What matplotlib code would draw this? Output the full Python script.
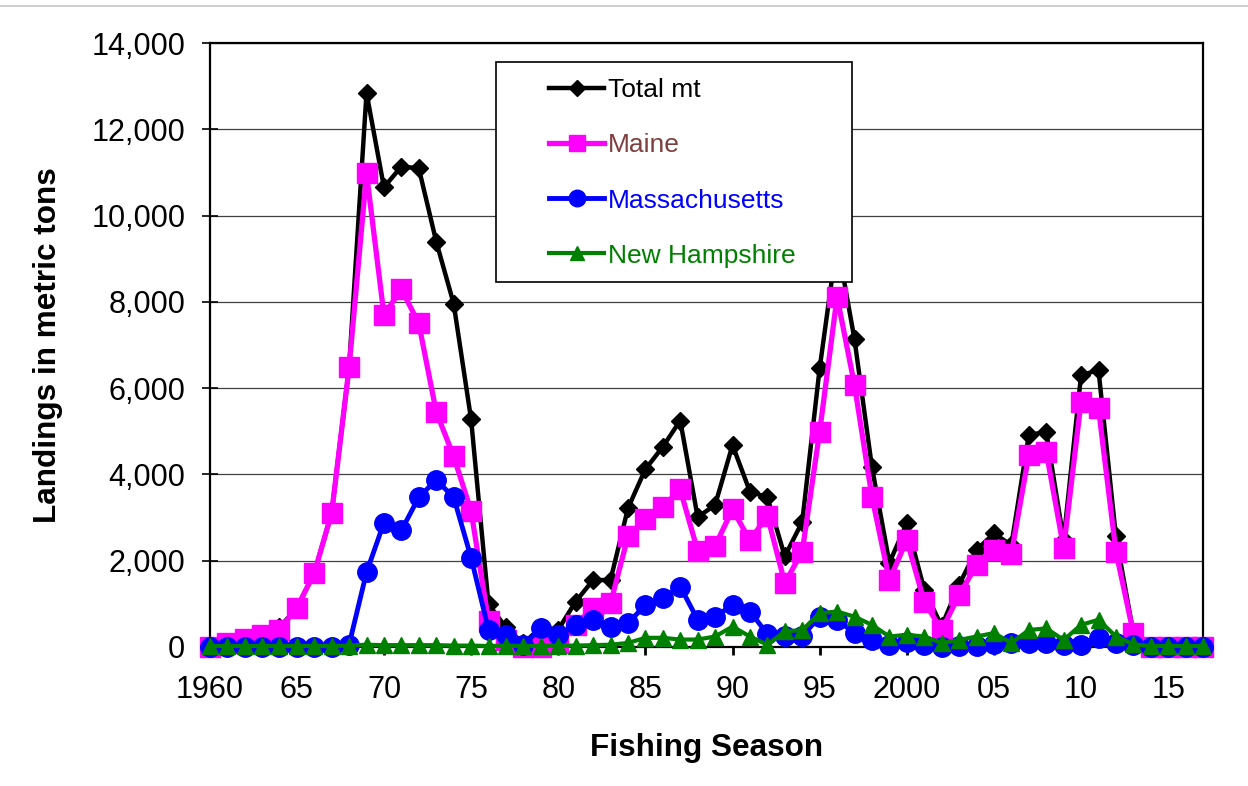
import matplotlib.pyplot as plt
from matplotlib.patches import Rectangle
from matplotlib.lines import Line2D
from matplotlib.ticker import FuncFormatter

plt.rcParams['font.family'] = ['Liberation Sans', 'DejaVu Sans']

years = list(range(1960, 2018))

total = [0, 100, 180, 270, 450, 900, 1710, 3105, 6480, 12850,
         10660, 11140, 11100, 9400, 7960, 5280, 990, 450, 80, 450,
         400, 1050, 1550, 1550, 3215, 4120, 4640, 5250, 3010, 3290,
         4680, 3600, 3470, 2100, 2900, 6460, 9400, 7130, 4170, 1950,
         2870, 1330, 480, 1440, 2250, 2630, 2360, 4910, 4990, 2480,
         6300, 6420, 2560, 320, 30, 0, 0, 0]
maine = [0, 100, 180, 270, 400, 900, 1710, 3105, 6480, 10980,
         7700, 8300, 7500, 5450, 4420, 3150, 600, 150, 0, 0,
         100, 510, 900, 1010, 2560, 2960, 3240, 3650, 2230, 2340,
         3190, 2470, 3040, 1480, 2210, 4990, 8120, 6070, 3480, 1550,
         2480, 1050, 390, 1200, 1900, 2250, 2160, 4450, 4530, 2290,
         5690, 5530, 2210, 320, 0, 0, 0, 0]
mass = [0, 0, 0, 0, 0, 0, 0, 0, 50, 1730,
        2880, 2700, 3470, 3870, 3470, 2070, 400, 270, 50, 430,
        280, 510, 630, 470, 550, 970, 1130, 1400, 630, 700,
        970, 820, 300, 250, 250, 700, 630, 320, 160, 50,
        120, 50, 0, 30, 30, 60, 80, 80, 80, 50,
        40, 200, 100, 50, 0, 0, 0, 0]
nh = [20, 20, 20, 20, 20, 20, 20, 20, 30, 50,
      40, 40, 40, 40, 30, 30, 20, 30, 20, 20,
      30, 30, 40, 50, 90, 210, 210, 170, 170, 240,
      470, 240, 50, 360, 390, 780, 820, 700, 510, 240,
      280, 240, 90, 160, 240, 320, 90, 390, 430, 160,
      510, 630, 240, 60, 20, 20, 20, 20]

xticks = [1960, 1965, 1970, 1975, 1980, 1985, 1990, 1995, 2000, 2005, 2010, 2015]
xtick_labels = ['1960', '65', '70', '75', '80', '85', '90', '95', '2000', '05', '10', '15']

fig = plt.figure(figsize=(12.48, 7.86), dpi=100)
ax = fig.add_axes([0.168, 0.177, 0.796, 0.768])

fig.add_artist(Line2D([0, 1], [0.993, 0.993], color='#c8c8c8', lw=1.2))

ax.plot(years, total, color='black', lw=3.2, marker='D', ms=9.5, mec='black', clip_on=False, zorder=3, label='Total mt')
ax.plot(years, maine, color='#ff00ff', lw=3.8, marker='s', ms=14, mec='#ff00ff', clip_on=False, zorder=4, label='Maine')
ax.plot(years, mass, color='#0000ff', lw=3.5, marker='o', ms=14, mec='#0000ff', clip_on=False, zorder=5, label='Massachusetts')
ax.plot(years, nh, color='#008000', lw=3, marker='^', ms=12, mec='#008000', clip_on=False, zorder=6, label='New Hampshire')

ax.set_xlim(1960, 2017)
ax.set_ylim(0, 14000)
ax.set_yticks(range(0, 14001, 2000))
ax.yaxis.set_major_formatter(FuncFormatter(lambda v, p: f'{int(v):,}'))
ax.set_xticks(xticks)
ax.set_xticklabels(xtick_labels)
ax.yaxis.grid(True, color='#404040', lw=0.9)
ax.set_axisbelow(True)

for s in ax.spines.values():
    s.set_linewidth(1.6)
ax.tick_params(axis='y', direction='inout', length=11, width=1.2, labelsize=22, pad=12)
ax.tick_params(axis='x', direction='out', length=6, width=2, labelsize=22, pad=14)

ax.set_xlabel('Fishing Season', fontsize=22.7, fontweight='bold')
ax.set_ylabel('Landings in metric tons', fontsize=22.7, fontweight='bold')
ax.xaxis.set_label_coords(0.5, -0.142)
ax.yaxis.set_label_coords(-0.148, 0.5)

# legend box drawn by hand so the padding can match
ax.add_patch(Rectangle((0.288, 0.604), 0.359, 0.3645, transform=ax.transAxes,
                       facecolor='white', edgecolor='black', lw=1.2, zorder=10))
leg = ax.legend(loc='upper left', bbox_to_anchor=(0.3414, 0.942), frameon=False,
                fontsize=19, handlelength=2.1, handletextpad=0.15, labelspacing=1.18,
                borderpad=0, borderaxespad=0, markerscale=0.85)
leg.set_zorder(11)
for t, c in zip(leg.get_texts(), ['black', '#7f3f3f', '#0000ff', '#008000']):
    t.set_color(c)

fig.savefig('out.png', dpi=100)
